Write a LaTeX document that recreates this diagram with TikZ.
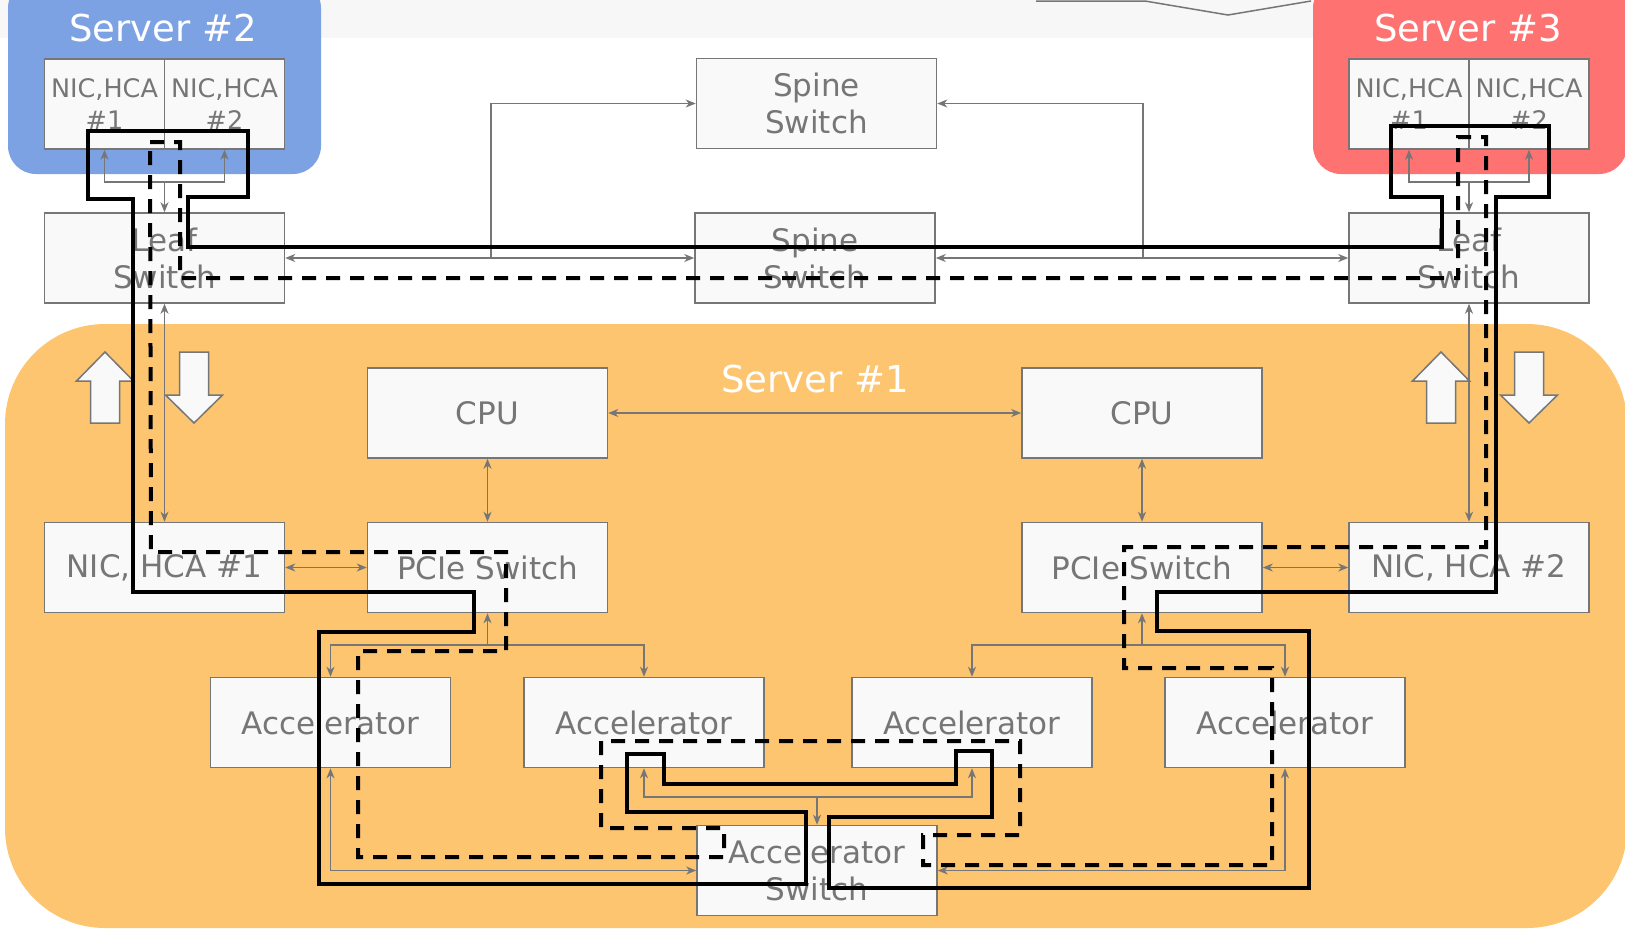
\documentclass[tikz,border=0pt]{standalone}
\usepackage{fontspec}
\setmainfont{DejaVu Sans}
\usetikzlibrary{arrows.meta}
\definecolor{srvblue}{RGB}{124,162,227}
\definecolor{srvred}{RGB}{255,114,114}
\definecolor{srvorange}{RGB}{253,197,112}
\definecolor{boxfill}{RGB}{249,249,249}
\definecolor{boxgray}{RGB}{118,118,118}
\definecolor{bandgray}{RGB}{247,247,247}
\begin{document}
\begin{tikzpicture}[x=1pt, y=-1pt, >={Stealth[length=10pt,width=8pt,inset=3pt]},
    box/.style={draw=boxgray, fill=boxfill, line width=1.5pt, minimum width=240pt,
        minimum height=90pt, inner sep=0pt, text=boxgray, align=center,
        font=\fontsize{31}{37}\selectfont},
    halfbox/.style={box, minimum width=120pt, font=\fontsize{25.5}{32}\selectfont},
    con/.style={boxgray, line width=1.5pt},
    srvlabel/.style={text=white, font=\fontsize{37}{40}\selectfont},
    pfad/.style={black, line width=4pt},
    blockpfeil/.style={draw=boxgray, fill=boxfill, line width=1.5pt}]
    \useasboundingbox (0,0) rectangle (1625,930);

    %Hintergrund
    \fill[bandgray] (0,0) rectangle (1313,38);
    \draw[boxgray, line width=1.5pt] (1036,1) -- (1145,1) -- (1228,15) -- (1311,1);
    \fill[srvblue, rounded corners=28pt] (8,-20) rectangle (321,174); %Server 2
    \fill[srvred, rounded corners=28pt] (1313,-20) rectangle (1627,174); %Server 3
    \fill[srvorange, rounded corners=100pt] (5,324) rectangle (1627,928); %Server 1
    \node[srvlabel] (s2) at (163,28) {Server \#2};
    \node[srvlabel] (s3) at (1468,28) {Server \#3};
    \node[srvlabel] (s1) at (815,379) {Server \#1};

    %Blockpfeile
    \foreach \x in {105,1441} {
        \draw[blockpfeil] (\x,352) -- (\x+28.5,381) -- (\x+14.5,381) -- (\x+14.5,423)
            -- (\x-14.5,423) -- (\x-14.5,381) -- (\x-28.5,381) -- cycle;
    }%hoch
    \foreach \x in {194,1529} {
        \draw[blockpfeil] (\x-14.5,352) -- (\x+14.5,352) -- (\x+14.5,395) -- (\x+28.5,395)
            -- (\x,423) -- (\x-28.5,395) -- (\x-14.5,395) -- cycle;
    }%runter

    %Boxen oben
    \node[halfbox] (nicLa) at (104.5,104) {NIC,HCA\\\#1};
    \node[halfbox] (nicLb) at (224.5,104) {NIC,HCA\\\#2};
    \node[halfbox] (nicRa) at (1409,104) {NIC,HCA\\\#1};
    \node[halfbox] (nicRb) at (1529,104) {NIC,HCA\\\#2};
    \node[box] (leafL) at (164.5,258) {Leaf\\Switch};
    \node[box] (leafR) at (1469,258) {Leaf\\Switch};
    \node[box] (spineT) at (816.5,103.5) {Spine\\Switch};
    \node[box] (spineB) at (815,258) {Spine\\Switch};

    %Boxen Server 1
    \node[box] (cpuL) at (487.5,413) {CPU};
    \node[box] (cpuR) at (1142,413) {CPU};
    \node[box] (nic1) at (164.5,567.5) {NIC, HCA \#1};
    \node[box] (pcieL) at (487.5,567.5) {PCIe Switch};
    \node[box] (pcieR) at (1142,567.5) {PCIe Switch};
    \node[box] (nic2) at (1469,567.5) {NIC, HCA \#2};
    \foreach \n/\x in {acc1/330.5, acc2/644, acc3/972, acc4/1285} {
        \node[box] (\n) at (\x,722.5) {Accelerator};
    }
    \node[box] (accsw) at (817,870.5) {Accelerator\\Switch};

    %Verbindungen
    \coordinate (tL) at (164.5,182);
    \coordinate (tR) at (1469,182);
    \coordinate (brL) at (491,258);
    \coordinate (brR) at (1143,258);
    \coordinate (pL) at (487.5,645);
    \coordinate (pR) at (1142,645);
    \coordinate (aT) at (817,797);
    \coordinate (aL) at (330.5,870.5);
    \coordinate (aR) at (1285,870.5);
    \foreach \t/\a/\b/\c in {tL/leafL/nicLa/nicLb, tR/leafR/nicRa/nicRb} {
        \draw[con,->] (\t) -- (\a.north);
        \draw[con,->] (\t) -| (\b.south);
        \draw[con,->] (\t) -| (\c.south);
    }
    \draw[con,<->] (leafL) -- (spineB);
    \draw[con,<->] (spineB) -- (leafR);
    \draw[con,->] (brL) |- (spineT.west);
    \draw[con,->] (brR) |- (spineT.east);
    \draw[con,<->] (leafL) -- (nic1);
    \draw[con,<->] (leafR) -- (nic2);
    \draw[con,<->] (cpuL) -- (cpuR);
    \draw[con,<->] (cpuL) -- (pcieL);
    \draw[con,<->] (cpuR) -- (pcieR);
    \draw[con,<->] (nic1) -- (pcieL);
    \draw[con,<->] (pcieR) -- (nic2);
    \foreach \p/\s/\a/\b in {pL/pcieL/acc1/acc2, pR/pcieR/acc3/acc4} {
        \draw[con,->] (\p) -- (\s.south);
        \draw[con,->] (\p) -| (\a.north);
        \draw[con,->] (\p) -| (\b.north);
    }
    \draw[con,->] (aT) -- (accsw.north);
    \draw[con,->] (aT) -| (acc2.south);
    \draw[con,->] (aT) -| (acc3.south);
    \draw[con,->] (aL) -- (acc1.south);
    \draw[con,->] (aL) -- (accsw.west);
    \draw[con,->] (aR) -- (acc4.south);
    \draw[con,->] (aR) -- (accsw.east);

    %Pfade
    \draw[pfad] (133,199) -- (133,592) -- (474,592) -- (474,632) -- (319,632) -- (319,884)
        -- (806,884) -- (806,812) -- (627,812) -- (627,754) -- (664,754) -- (664,784)
        -- (956,784) -- (956,751) -- (992,751) -- (992,817) -- (829,817) -- (829,888)
        -- (1309,888) -- (1309,631) -- (1157,631) -- (1157,592) -- (1496,592) -- (1496,197)
        -- (1549,197) -- (1549,126) -- (1391,126) -- (1391,197) -- (1442,197) -- (1442,247)
        -- (188,247) -- (188,197) -- (248,197) -- (248,131) -- (88,131) -- (88,199) -- cycle;
    \draw[pfad, dash pattern=on 14pt off 10pt] (150,142) -- (180,142) -- (180,278)
        -- (1458,278) -- (1458,137) -- (1486,137) -- (1486,547) -- (1124,547) -- (1124,668)
        -- (1272,668) -- (1272,865) -- (923,865) -- (923,835) -- (1020,835) -- (1020,741)
        -- (601,741) -- (601,828) -- (724,828) -- (724,857) -- (358,857) -- (358,651)
        -- (506,651) -- (506,552) -- (151,552) -- cycle;
\end{tikzpicture}
\end{document}
